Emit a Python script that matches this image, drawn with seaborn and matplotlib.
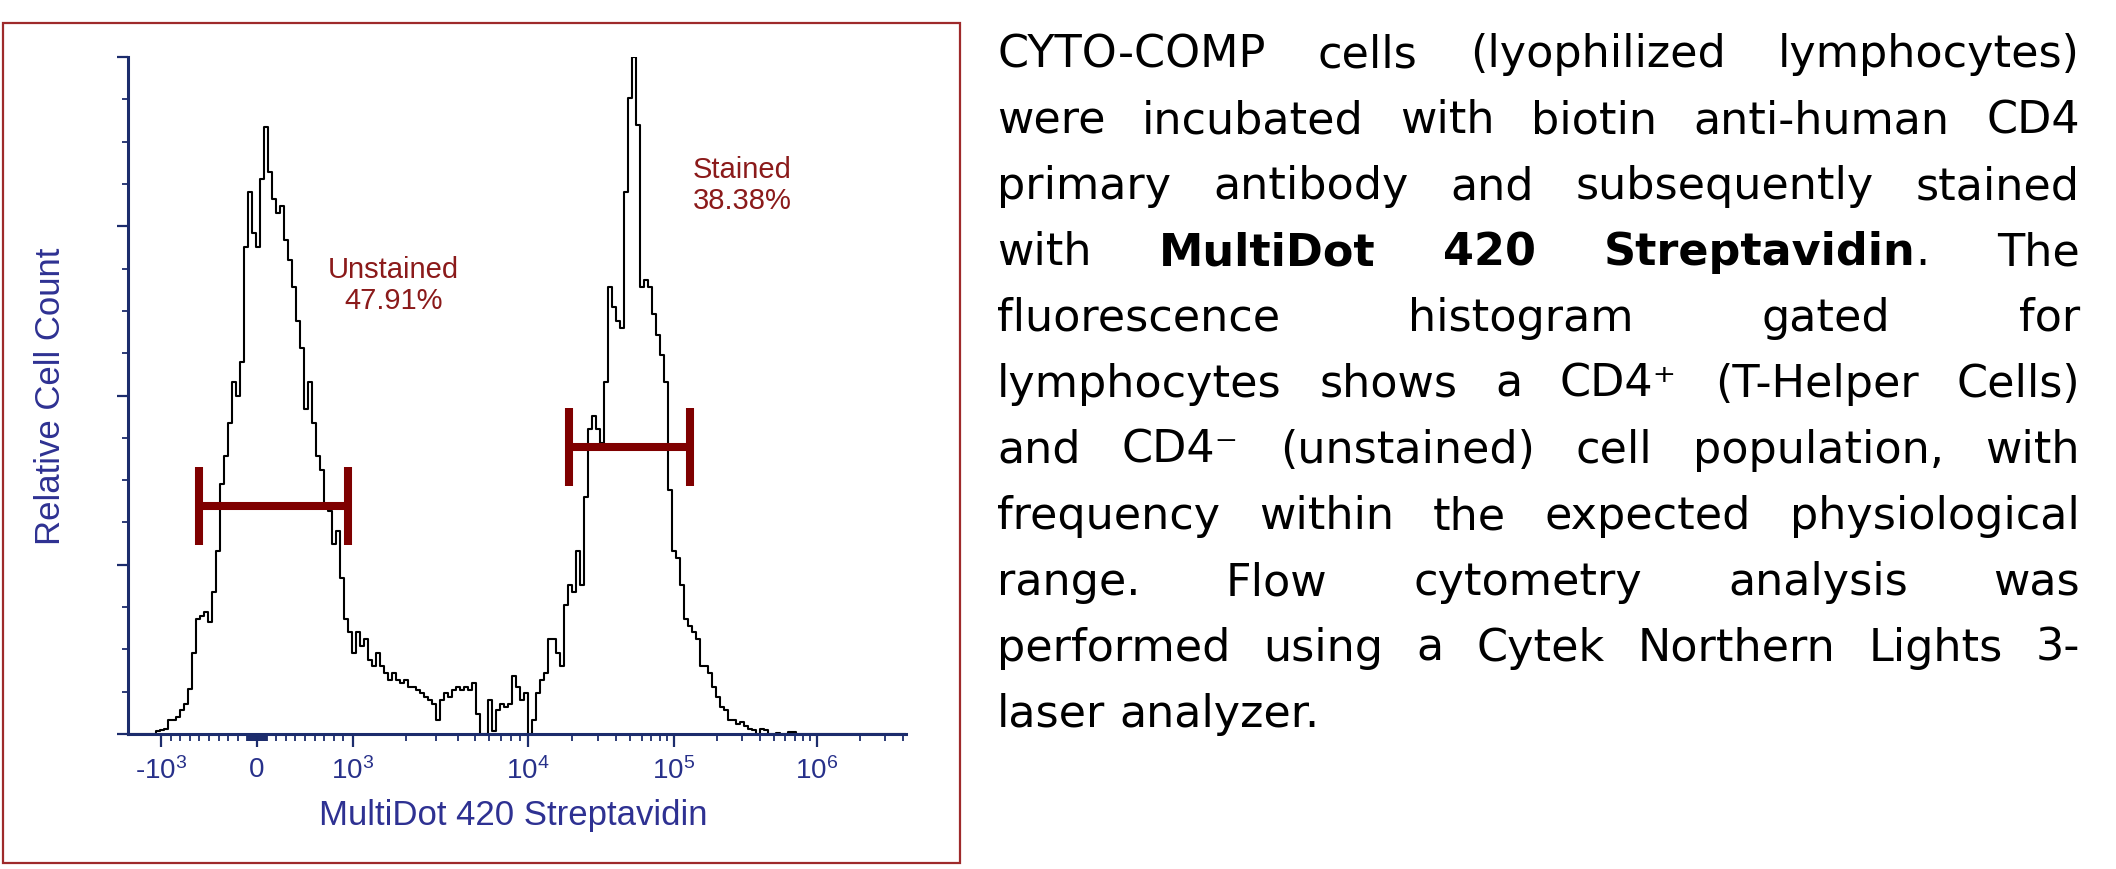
import numpy as np
import matplotlib
matplotlib.use("Agg")
import matplotlib.pyplot as plt
from matplotlib.patches import Rectangle
import seaborn as sns

# relative cell count per instrument channel, read left to right off the plot
channel_counts = [
    0, 0, 0, 0, 0, 0, 0,
    .004, .006, .008, .021, .021, .025, .035, .045, .066,
    .12, .17, .175, .18, .165, .21, .27, .37, .41, .46, .52, .50,
    .55, .72, .80, .74, .72, .82, .897, .83, .79, .77, .78, .73,
    .70, .66, .61, .57, .48, .52, .46, .41, .39, .34, .33, .28,
    .30, .23, .17, .15, .12, .15, .13, .14, .11, .10, .12, .10,
    .09, .08, .09, .08, .075, .08, .07, .07, .065, .06, .055, .05,
    .045, .02, .05, .06, .055, .065, .07, .065, .07, .065, .075, .03,
    0, 0, .05, .005, .035, .045, .04, .045, .085, .07, .05, .06,
    0, .02, .06, .08, .09, .14, .14, .12, .10, .19, .22, .21,
    .27, .22, .35, .45, .47, .45, .43, .52, .66, .63, .61, .60,
    .80, .94, 1.0, .90, .66, .67, .66, .62, .59, .56, .52, .36,
    .27, .26, .22, .17, .16, .15, .14, .10, .10, .09, .07, .055,
    .04, .035, .02, .02, .015, .018, .012, .008, .006, 0, .008, .006,
    0, 0, .002, 0, 0, .003, .003, 0, 0, 0, 0, 0,
] + [0] * 23

# logicle-like display scale: linear up to 10^3, then per-decade positions
lin_limit = 1000.0
decades = [3, 4, 5, 6, 7]
decade_pos = [0.96, 2.71, 4.17, 5.60, 7.03]

major_ticks = [-1000, 0, 1000, 1e4, 1e5, 1e6]
major_labels = ["-$\\mathregular{10^{3}}$", "0", "$\\mathregular{10^{3}}$",
                "$\\mathregular{10^{4}}$", "$\\mathregular{10^{5}}$", "$\\mathregular{10^{6}}$"]

gate_names = ["Unstained", "Stained"]
gate_pcts = ["47.91%", "38.38%"]
gate_lo = [-600, 1.9e4]
gate_hi = [950, 1.3e5]
gate_y = [0.337, 0.424]
label_x = [1700, 3.0e5]
label_y = [0.675, 0.823]

paragraph = [
    "CYTO-COMP cells (lyophilized lymphocytes)",
    "were incubated with biotin anti-human CD4",
    "primary antibody and subsequently stained",
    "with **MultiDot** **420** **Streptavidin**. The",
    "fluorescence histogram gated for",
    "lymphocytes shows a CD4\u207a (T-Helper Cells)",
    "and CD4\u207b (unstained) cell population, with",
    "frequency within the expected physiological",
    "range. Flow cytometry analysis was",
    "performed using a Cytek Northern Lights 3-",
    "laser analyzer.",
]

AXIS = "#1c2c6c"
TICKLAB = "#27308a"
LABEL = "#2e3192"
GATE = "#7f0000"
GATE_TXT = "#8b1a1a"
BORDER = "#9e2a2b"


def fwd(x):
    x = np.asarray(x, dtype=float)
    lin = x / lin_limit * decade_pos[0]
    lg = np.interp(np.log10(np.maximum(x, lin_limit)), decades, decade_pos)
    return np.where(x <= lin_limit, lin, lg)


def inv(t):
    t = np.asarray(t, dtype=float)
    lin = t / decade_pos[0] * lin_limit
    lg = 10 ** np.interp(np.maximum(t, decade_pos[0]), decade_pos, decades)
    return np.where(t <= decade_pos[0], lin, lg)


sns.set_style("ticks")
plt.rcParams["font.family"] = ["Liberation Sans", "DejaVu Sans"]
plt.rcParams["text.color"] = "black"

W, H = 2116, 870
fig = plt.figure(figsize=(W / 100, H / 100), dpi=100)
ax = fig.add_axes([128 / W, 135 / H, 778 / W, 677 / H])
ax.set_xscale("function", functions=(fwd, inv))

# channels are evenly spaced on the display scale
t_first, t_step = -1.27, 0.04
channel_x = inv(t_first + t_step * np.arange(len(channel_counts)))
sns.lineplot(x=channel_x, y=channel_counts, drawstyle="steps-mid",
             color="black", linewidth=1.5, ax=ax)

ax.set_xlim(inv(-1.29), inv(6.49))
ax.set_ylim(0, 1)

# gates
ax.hlines(gate_y, gate_lo, gate_hi, colors=GATE, linewidth=5.8)
cap = 0.058
for lo, hi, y in zip(gate_lo, gate_hi, gate_y):
    ax.vlines([lo, hi], y - cap, y + cap, colors=GATE, linewidth=5.8)
for name, pct, x, y in zip(gate_names, gate_pcts, label_x, label_y):
    ax.text(x, y, name, ha="center", va="baseline", fontsize=21, color=GATE_TXT)
    ax.text(x, y - 0.046, pct, ha="center", va="baseline", fontsize=21, color=GATE_TXT)

# axes styling
sns.despine(ax=ax)
for side in ["left", "bottom"]:
    ax.spines[side].set_color(AXIS)
    ax.spines[side].set_linewidth(2.2)

minor = (list(np.arange(-900, 0, 100)) + list(np.arange(-90, 0, 10)) + list(np.arange(10, 100, 10))
         + list(np.arange(100, 1000, 100)))
for d in [1e3, 1e4, 1e5]:
    minor += [m * d for m in range(2, 10)]
minor += [2e6, 3e6, 4e6]
ax.set_xticks(major_ticks, labels=major_labels)
ax.set_xticks(minor, minor=True)
ax.set_yticks([0, 0.25, 0.5, 0.75, 1.0])
ax.set_yticks([v / 16 for v in range(16) if v % 4], minor=True)

ax.tick_params(axis="x", which="major", length=9, width=1.6, color=AXIS,
               labelcolor=TICKLAB, labelsize=20, pad=7)
ax.tick_params(axis="x", which="minor", length=5, width=1.3, color=AXIS)
ax.tick_params(axis="y", which="major", length=8, width=1.6, color=AXIS, labelleft=False)
ax.tick_params(axis="y", which="minor", length=4, width=1.3, color=AXIS)

ax.set_xlabel("MultiDot 420 Streptavidin", fontsize=25, color=LABEL)
ax.xaxis.set_label_coords(0.4955, -0.095)
ax.set_ylabel("Relative Cell Count", fontsize=25, color=LABEL)
ax.yaxis.set_label_coords(-0.078, 0.5)

# red frame around the chart
fig.add_artist(Rectangle((3 / W, 6 / H), 957 / W, 840 / H, transform=fig.transFigure,
                         fill=False, edgecolor=BORDER, linewidth=1.6))

# justified paragraph on the right
renderer = fig.canvas.get_renderer()
left_px, right_px = 997, 2080
psize = 32


def make_word(word, y):
    runs = []
    for j, part in enumerate(word.split("**")):
        if part:
            t = fig.text(0, y, part, fontsize=psize, family="DejaVu Sans", color="black",
                         weight="bold" if j % 2 else "normal", va="baseline", ha="left")
            runs.append((t, t.get_window_extent(renderer).width))
    return runs


probe = fig.text(0, 0, "a a", fontsize=psize, family="DejaVu Sans")
probe2 = fig.text(0, 0, "aa", fontsize=psize, family="DejaVu Sans")
space_w = probe.get_window_extent(renderer).width - probe2.get_window_extent(renderer).width
probe.remove()
probe2.remove()

for i, line in enumerate(paragraph):
    y = (H - (67 + 66 * i)) / H
    words = [make_word(w, y) for w in line.split(" ")]
    widths = [sum(w for _, w in runs) for runs in words]
    last = i == len(paragraph) - 1
    gap = space_w if last else (right_px - left_px - sum(widths)) / (len(words) - 1)
    x = left_px
    for runs, wsum in zip(words, widths):
        rx = x
        for t, w in runs:
            t.set_x(rx / W)
            rx += w
        x += wsum + gap

fig.savefig("out.png", dpi=100)
